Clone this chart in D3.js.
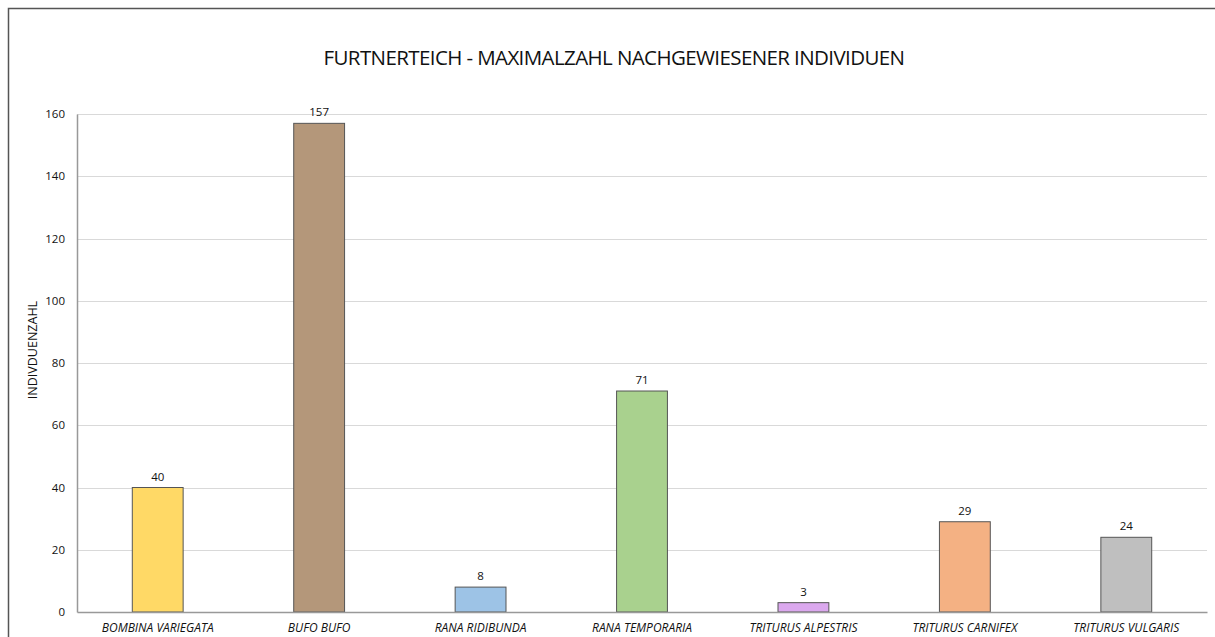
<!DOCTYPE html>
<html>
<head>
<meta charset="utf-8">
<script src="https://cdn.jsdelivr.net/npm/d3@7"></script>
<style>
  body { margin: 0; background: #fff; }
  svg text { font-family: "Open Sans", "Noto Sans", sans-serif; fill: #111; }
</style>
</head>
<body>
<svg id="chart" width="1215" height="637"></svg>
<script>
// species and max counts
const species = ["BOMBINA VARIEGATA", "BUFO BUFO", "RANA RIDIBUNDA", "RANA TEMPORARIA",
  "TRITURUS ALPESTRIS", "TRITURUS CARNIFEX", "TRITURUS VULGARIS"];
const counts = [40, 157, 8, 71, 3, 29, 24];
const barColors = ["#ffd966", "#b4977a", "#9dc3e6", "#a9d18e", "#dba8ee", "#f4b183", "#bfbfbf"];
const yTicks = [0, 20, 40, 60, 80, 100, 120, 140, 160];

const svg = d3.select("#chart");
const margin = {top: 114, right: 8, bottom: 25, left: 77};
const width = 1215 - margin.left - margin.right;
const height = 637 - margin.top - margin.bottom;

// outer frame (left + top edges visible)
svg.append("path")
  .attr("d", "M8.5,637 V8.5 H1215")
  .attr("fill", "none")
  .attr("stroke", "#555")
  .attr("stroke-width", 1.5);

svg.append("text")
  .attr("x", 614)
  .attr("y", 65)
  .attr("text-anchor", "middle")
  .attr("font-size", 20.5)
  .attr("letter-spacing", -0.6)
  .text("FURTNERTEICH - MAXIMALZAHL NACHGEWIESENER INDIVIDUEN");

const g = svg.append("g")
  .attr("transform", `translate(${margin.left},${margin.top})`);

const x = d3.scaleBand()
  .domain(species)
  .range([0, width])
  .padding(0);

const y = d3.scaleLinear()
  .domain([0, 160])
  .range([height, 0]);

// grid
g.selectAll(".grid")
  .data(yTicks.filter(d => d > 0))
  .enter().append("line")
  .attr("class", "grid")
  .attr("x1", 0)
  .attr("x2", width)
  .attr("y1", d => Math.round(y(d)) + 0.5)
  .attr("y2", d => Math.round(y(d)) + 0.5)
  .attr("stroke", "#d9d9d9")
  .attr("stroke-width", 1);

// y axis
const yAxis = d3.axisLeft(y).tickValues(yTicks).tickSize(0).tickPadding(12);
const ya = g.append("g").call(yAxis);
ya.select(".domain").attr("stroke", "#999").attr("stroke-width", 1.5);
ya.selectAll("text").attr("font-size", 11.5).attr("font-family", "Open Sans");

// bars
const barW = x.bandwidth() * 0.315;
g.selectAll(".bar")
  .data(counts)
  .enter().append("rect")
  .attr("class", "bar")
  .attr("x", (d, i) => x(species[i]) + x.bandwidth() / 2 - barW / 2)
  .attr("y", d => y(d))
  .attr("width", barW)
  .attr("height", d => height - y(d))
  .attr("fill", (d, i) => barColors[i])
  .attr("stroke", "#555")
  .attr("stroke-width", 1);

// value labels
g.selectAll(".val")
  .data(counts)
  .enter().append("text")
  .attr("class", "val")
  .attr("x", (d, i) => x(species[i]) + x.bandwidth() / 2)
  .attr("y", d => y(d) - 7)
  .attr("text-anchor", "middle")
  .attr("font-size", 11.5)
  .text(d => d);

// x axis
const xAxis = d3.axisBottom(x).tickSize(0).tickPadding(11);
const xa = g.append("g")
  .attr("transform", `translate(0,${height})`)
  .call(xAxis);
xa.select(".domain").attr("stroke", "#999").attr("stroke-width", 1.5);
xa.selectAll("text")
  .attr("font-size", 12)
  .attr("font-style", "italic")
  .attr("font-family", "Open Sans");

// y title
svg.append("text")
  .attr("transform", "translate(37,350) rotate(-90)")
  .attr("text-anchor", "middle")
  .attr("font-size", 12.5)
  .text("INDIVDUENZAHL");
</script>
</body>
</html>
